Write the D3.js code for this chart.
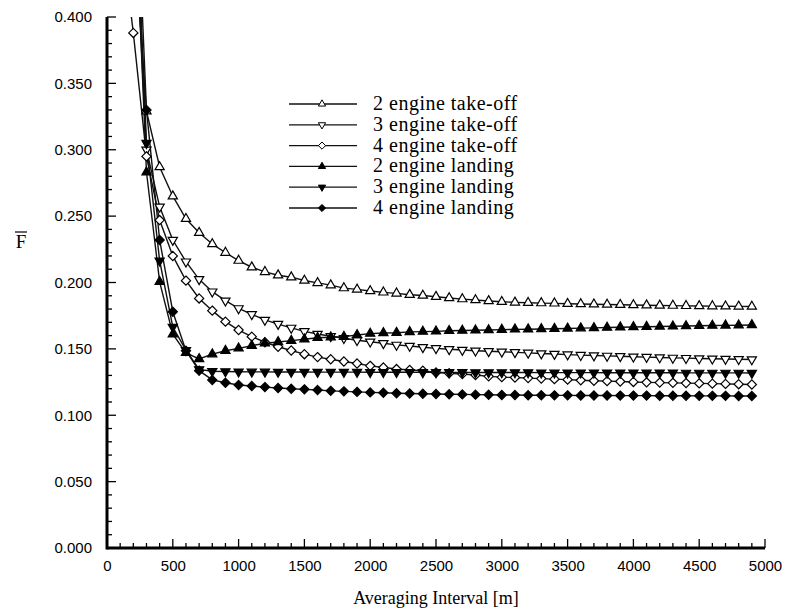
<!DOCTYPE html>
<html><head><meta charset="utf-8">
<script src="https://cdn.jsdelivr.net/npm/d3@7"></script>
<style>body{margin:0;background:#fff}svg{display:block}</style>
</head><body><svg id="c" width="785" height="611"></svg>
<script>
const distances = [100,200,300,400,500,600,700,800,900,1000,1100,1200,1300,1400,1500,1600,1700,1800,1900,2000,2100,2200,2300,2400,2500,2600,2700,2800,2900,3000,3100,3200,3300,3400,3500,3600,3700,3800,3900,4000,4100,4200,4300,4400,4500,4600,4700,4800,4900];
const takeoff2 = [null,0.47,0.329,0.287,0.265,0.248,0.2375,0.229,0.2225,0.2165,0.2115,0.208,0.2055,0.204,0.2015,0.1997,0.198,0.1958,0.1948,0.1936,0.1926,0.1918,0.1908,0.1902,0.1893,0.1883,0.1875,0.1868,0.1861,0.1855,0.185,0.1847,0.1845,0.1843,0.184,0.1838,0.1836,0.1834,0.1832,0.183,0.1829,0.1827,0.1826,0.1824,0.1823,0.1822,0.1821,0.182,0.1819];
const takeoff3 = [null,0.50,0.300,0.257,0.232,0.2157,0.2024,0.1931,0.1863,0.1805,0.176,0.1718,0.1687,0.1658,0.1632,0.1612,0.1595,0.158,0.1565,0.1554,0.1542,0.153,0.1522,0.1512,0.1504,0.1497,0.1491,0.1486,0.1482,0.1478,0.1474,0.147,0.1465,0.1461,0.1457,0.1453,0.145,0.1447,0.1444,0.1441,0.1438,0.1435,0.1432,0.143,0.1428,0.1426,0.1424,0.1422,0.142];
const takeoff4 = [0.47,0.388,0.295,0.247,0.220,0.2014,0.188,0.1788,0.1705,0.1642,0.1592,0.155,0.1516,0.1488,0.146,0.1438,0.1422,0.1405,0.139,0.1372,0.136,0.1348,0.1341,0.1335,0.1322,0.1316,0.131,0.1303,0.1293,0.1287,0.1284,0.128,0.1276,0.1272,0.1268,0.1264,0.126,0.1257,0.1254,0.1251,0.1248,0.1246,0.1244,0.1242,0.124,0.1238,0.1236,0.1234,0.1232];
const landing2 = [null,0.52,0.283,0.2005,0.161,0.147,0.1424,0.146,0.1486,0.1504,0.1524,0.1542,0.1552,0.1562,0.1572,0.1584,0.1588,0.1592,0.1605,0.1615,0.162,0.1622,0.1628,0.163,0.1632,0.1636,0.1638,0.164,0.1642,0.1645,0.1647,0.1648,0.165,0.1652,0.1654,0.1656,0.1658,0.1661,0.1663,0.1665,0.1667,0.1669,0.167,0.1672,0.1674,0.1676,0.1677,0.1678,0.168];
const landing3 = [null,0.54,0.305,0.2164,0.1665,0.149,0.1345,0.1332,0.133,0.1328,0.1327,0.1327,0.1326,0.1326,0.1326,0.1325,0.1325,0.1325,0.1325,0.1324,0.1324,0.1324,0.1324,0.1323,0.1323,0.1323,0.1323,0.1322,0.1322,0.1322,0.1322,0.1322,0.1321,0.1321,0.1321,0.1321,0.1321,0.132,0.132,0.132,0.132,0.132,0.132,0.1319,0.1319,0.1319,0.1319,0.1319,0.1318];
const landing4 = [null,0.56,0.330,0.232,0.178,0.1486,0.1336,0.1266,0.1245,0.1228,0.122,0.1212,0.1205,0.12,0.1195,0.119,0.1184,0.118,0.1176,0.1172,0.1169,0.1166,0.1164,0.1162,0.116,0.1158,0.1157,0.1155,0.1154,0.1153,0.1152,0.1151,0.1151,0.115,0.115,0.1149,0.1149,0.1149,0.1148,0.1148,0.1148,0.1147,0.1147,0.1147,0.1146,0.1146,0.1146,0.1145,0.1145];
const seriesNames = ["2 engine take-off","3 engine take-off","4 engine take-off","2 engine landing","3 engine landing","4 engine landing"];
const xTickLabels = [0,500,1000,1500,2000,2500,3000,3500,4000,4500,5000];
const yTickLabels = [0.000,0.050,0.100,0.150,0.200,0.250,0.300,0.350,0.400];

const seriesValues = [takeoff2,takeoff3,takeoff4,landing2,landing3,landing4];
const markerShapes = ["up","down","diamond","up","down","diamond"];
const markerFilled = [false,false,false,true,true,true];

const svg = d3.select("#c");
const L = 107, R = 765, T = 17, B = 548;
const x = d3.scaleLinear().domain([0,5000]).range([L,R]);
const y = d3.scaleLinear().domain([0,0.4]).range([B,T]);

function sym(shape, r){
  if(shape==="up") return `M0,${-1.155*r}L${r},${0.577*r}L${-r},${0.577*r}Z`;
  if(shape==="down") return `M0,${1.155*r}L${r},${-0.577*r}L${-r},${-0.577*r}Z`;
  return `M0,${-r}L${r},0L0,${r}L${-r},0Z`;
}

svg.append("clipPath").attr("id","clip").append("rect")
  .attr("x",L).attr("y",T).attr("width",R-L+10).attr("height",B-T);

const plot = svg.append("g").attr("clip-path","url(#clip)");
const line = d3.line().defined(d=>d[1]!=null).x(d=>x(d[0])).y(d=>y(d[1]));

seriesValues.forEach((vals,i)=>{
  const pts = distances.map((d,j)=>[d,vals[j]]);
  plot.append("path").datum(pts).attr("d",line)
    .attr("fill","none").attr("stroke","#111").attr("stroke-width",1.4);
});
seriesValues.forEach((vals,i)=>{
  const pts = distances.map((d,j)=>[d,vals[j]]).filter(p=>p[1]!=null && p[1]<=0.4);
  plot.selectAll(null).data(pts).enter().append("path")
    .attr("transform",p=>`translate(${x(p[0])},${y(p[1])})`)
    .attr("d",sym(markerShapes[i],4.6))
    .attr("fill",markerFilled[i]?"#000":"#fff")
    .attr("stroke","#000").attr("stroke-width",1.2);
});

// axes
const xAxis = d3.axisBottom(x).tickValues(xTickLabels).tickSize(0).tickPadding(12).tickFormat(d3.format("d"));
const gx = svg.append("g").attr("transform",`translate(0,${B})`).call(xAxis);
gx.select(".domain").remove();
gx.selectAll("text").attr("font-family","'Liberation Sans',Arial,sans-serif").attr("font-size",15).attr("fill","#000");
const yAxis = d3.axisLeft(y).tickValues(yTickLabels).tickSize(0).tickPadding(15).tickFormat(d3.format(".3f"));
const gy = svg.append("g").attr("transform",`translate(${L},0)`).call(yAxis);
gy.select(".domain").remove();
gy.selectAll("text").attr("font-family","'Liberation Sans',Arial,sans-serif").attr("font-size",15).attr("fill","#000");

// ticks
const xt = d3.range(0,5001,100);
svg.append("g").selectAll("line").data(xt).enter().append("line")
  .attr("x1",d=>x(d)).attr("x2",d=>x(d)).attr("y1",B).attr("y2",d=>B-(d%500===0?9:5))
  .attr("stroke","#000").attr("stroke-width",1.3);
const yt = d3.range(0,41,1).map(v=>v/100);
svg.append("g").selectAll("line").data(yt).enter().append("line")
  .attr("y1",d=>y(d)).attr("y2",d=>y(d)).attr("x1",L).attr("x2",(d,i)=>L+(i%5===0?9:5))
  .attr("stroke","#000").attr("stroke-width",1.3);
svg.append("line").attr("x1",L).attr("x2",R).attr("y1",B).attr("y2",B).attr("stroke","#000").attr("stroke-width",3);
svg.append("line").attr("x1",L).attr("x2",L).attr("y1",T).attr("y2",B+1.5).attr("stroke","#000").attr("stroke-width",3);

// axis titles
svg.append("text").attr("x",436).attr("y",604).attr("text-anchor","middle")
  .attr("font-family","'Liberation Serif','Times New Roman',serif").attr("font-size",18).text("Averaging Interval [m]");
svg.append("text").attr("x",21).attr("y",248).attr("text-anchor","middle")
  .attr("font-family","'Liberation Serif','Times New Roman',serif").attr("font-size",19).text("F");
svg.append("line").attr("x1",15).attr("x2",27).attr("y1",232).attr("y2",232).attr("stroke","#000").attr("stroke-width",1.2);

// legend
const lg = svg.append("g");
seriesNames.forEach((name,i)=>{
  const yy = 104 + i*20.8;
  lg.append("line").attr("x1",289).attr("x2",357).attr("y1",yy).attr("y2",yy).attr("stroke","#111").attr("stroke-width",1.3);
  lg.append("path").attr("transform",`translate(322,${yy})`).attr("d",sym(markerShapes[i],3.6))
    .attr("fill",markerFilled[i]?"#000":"#fff").attr("stroke","#000").attr("stroke-width",1);
  lg.append("text").attr("x",373).attr("y",yy+6).attr("letter-spacing",0.5)
    .attr("font-family","'Liberation Serif','Times New Roman',serif").attr("font-size",20).text(name);
});
</script></body></html>
